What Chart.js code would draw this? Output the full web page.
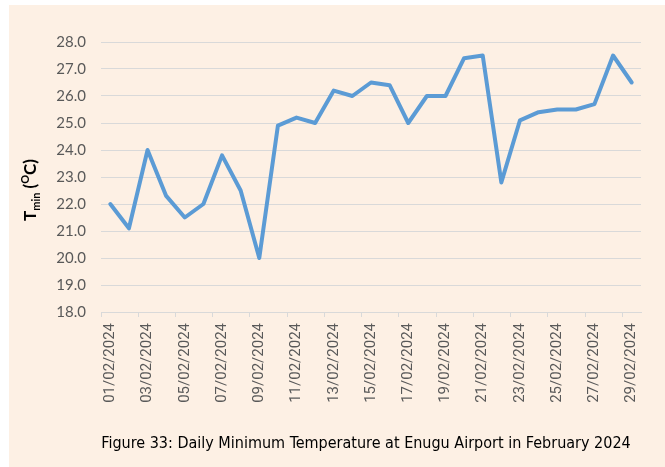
<!DOCTYPE html>
<html lang="en">
<head>
    <meta charset="UTF-8">
    <title>Daily Minimum Temperature - Enugu Airport</title>
    <script src="https://cdn.jsdelivr.net/npm/chart.js"></script>
    <style>
        html, body { margin: 0; padding: 0; background: #ffffff; }
        .frame { position: absolute; left: 9px; top: 5px; width: 656px; height: 462px; background: #fdf0e4; }
    </style>
</head>
<body>
    <div class="frame">
        <canvas id="tminChart" width="656" height="462"></canvas>
    </div>

    <script>
        // Daily minimum temperature (°C), February 2024
        const dates = [
            "01/02/2024", "02/02/2024", "03/02/2024", "04/02/2024", "05/02/2024",
            "06/02/2024", "07/02/2024", "08/02/2024", "09/02/2024", "10/02/2024",
            "11/02/2024", "12/02/2024", "13/02/2024", "14/02/2024", "15/02/2024",
            "16/02/2024", "17/02/2024", "18/02/2024", "19/02/2024", "20/02/2024",
            "21/02/2024", "22/02/2024", "23/02/2024", "24/02/2024", "25/02/2024",
            "26/02/2024", "27/02/2024", "28/02/2024", "29/02/2024"
        ];
        const tmin = [
            22.0, 21.1, 24.0, 22.3, 21.5, 22.0, 23.8, 22.5, 20.0, 24.9,
            25.2, 25.0, 26.2, 26.0, 26.5, 26.4, 25.0, 26.0, 26.0, 27.4,
            27.5, 22.8, 25.1, 25.4, 25.5, 25.5, 25.7, 27.5, 26.5
        ];
        const yMin = 18, yMax = 28, yStep = 1;
        const caption = "Figure 33: Daily Minimum Temperature at Enugu Airport in February 2024";

        const gridGrey = "#d9d9d9";
        const tickGrey = "#595959";

        // y title with subscript / superscript, and the figure caption
        const textPlugin = {
            id: "textPlugin",
            afterDraw(chart) {
                const ctx = chart.ctx;
                ctx.save();
                ctx.fillStyle = "#000000";
                ctx.textBaseline = "alphabetic";
                ctx.textAlign = "left";

                const big = "bold 17px Lato, sans-serif";
                const small = "bold 11px Lato, sans-serif";
                const parts = [
                    { t: "T", f: big, dy: 0 },
                    { t: "min", f: small, dy: 4 },
                    { t: " (", f: big, dy: 0 },
                    { t: "O", f: small, dy: -7 },
                    { t: "C)", f: big, dy: 0 }
                ];
                let w = 0;
                parts.forEach(p => { ctx.font = p.f; p.w = ctx.measureText(p.t).width; w += p.w; });

                ctx.translate(27, 185);
                ctx.rotate(-Math.PI / 2);
                let x = -w / 2;
                parts.forEach(p => {
                    ctx.font = p.f;
                    ctx.fillText(p.t, x, p.dy);
                    x += p.w;
                });
                ctx.restore();

                ctx.save();
                ctx.fillStyle = "#000000";
                ctx.font = "16px 'DejaVu Sans Condensed', sans-serif";
                ctx.textAlign = "center";
                ctx.textBaseline = "alphabetic";
                ctx.fillText(caption, 357, 443);
                ctx.restore();
            }
        };

        new Chart(document.getElementById("tminChart").getContext("2d"), {
            type: "line",
            data: {
                labels: dates,
                datasets: [{
                    label: "Tmin",
                    data: tmin,
                    borderColor: "#5b9bd5",
                    backgroundColor: "#5b9bd5",
                    borderWidth: 4,
                    borderJoinStyle: "round",
                    borderCapStyle: "round",
                    pointRadius: 0,
                    tension: 0
                }]
            },
            options: {
                responsive: false,
                animation: false,
                layout: { padding: { left: 0, top: 37, right: 24, bottom: 0 } },
                plugins: {
                    legend: { display: false },
                    tooltip: { enabled: false }
                },
                scales: {
                    x: {
                        offset: true,
                        afterFit: (scale) => { scale.height = 155; },
                        grid: {
                            offset: true,
                            drawOnChartArea: false,
                            drawTicks: true,
                            tickLength: 5,
                            tickWidth: 1,
                            tickColor: (ctx) => (ctx.index !== undefined && ctx.index % 2 === 0) ? gridGrey : "rgba(0,0,0,0)"
                        },
                        border: { display: true, color: gridGrey, width: 1 },
                        ticks: {
                            autoSkip: false,
                            minRotation: 90,
                            maxRotation: 90,
                            padding: 6,
                            color: tickGrey,
                            font: { family: "Roboto", size: 15 },
                            callback: (v, i) => i % 2 === 0 ? dates[i] : ""
                        }
                    },
                    y: {
                        min: yMin,
                        max: yMax,
                        afterFit: (scale) => { scale.width = 92; },
                        grid: { color: gridGrey, lineWidth: 1, drawTicks: false },
                        border: { display: false },
                        ticks: {
                            stepSize: yStep,
                            padding: 15,
                            color: tickGrey,
                            font: { family: "Lato", size: 15 },
                            callback: (v) => Number(v).toFixed(1)
                        }
                    }
                }
            },
            plugins: [textPlugin]
        });
    </script>
</body>
</html>
